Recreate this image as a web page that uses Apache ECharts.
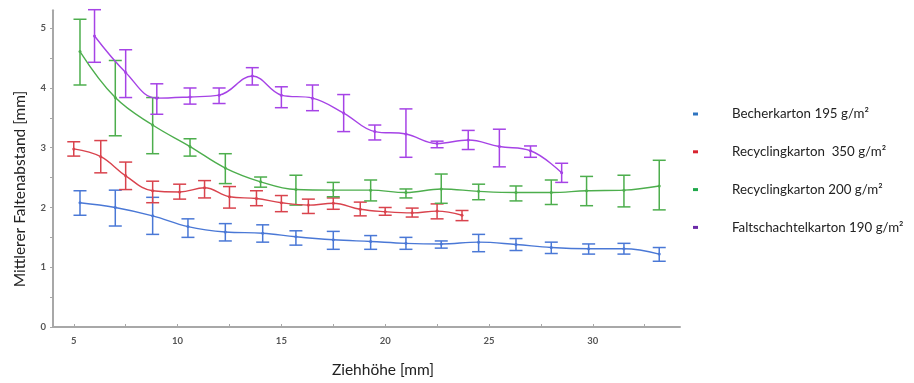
<!DOCTYPE html>
<html><head><meta charset="utf-8">
<script src="https://cdn.jsdelivr.net/npm/echarts@6/dist/echarts.min.js"></script>
<style>html,body{margin:0;padding:0;background:#fff}#c{width:914px;height:383px}</style>
</head><body><div id="c"></div>
<script>
// Becherkarton 195 g/m²
var becherX    = [5.3, 7.0, 8.8, 10.5, 12.3, 14.1, 15.7, 17.5, 19.3, 21.0, 22.7, 24.5, 26.3, 28.0, 29.8, 31.5, 33.2];
var becherMean = [2.08, 2.00, 1.86, 1.68, 1.59, 1.57, 1.51, 1.46, 1.43, 1.40, 1.39, 1.42, 1.38, 1.33, 1.31, 1.31, 1.22];
var becherHigh = [2.28, 2.29, 2.17, 1.81, 1.73, 1.71, 1.61, 1.60, 1.53, 1.50, 1.44, 1.55, 1.48, 1.42, 1.39, 1.40, 1.33];
var becherLow  = [1.87, 1.69, 1.55, 1.50, 1.44, 1.42, 1.37, 1.30, 1.30, 1.30, 1.32, 1.26, 1.28, 1.23, 1.22, 1.22, 1.10];
// Recyclingkarton 350 g/m²
var rec350X    = [5.0, 6.3, 7.5, 8.8, 10.1, 11.3, 12.5, 13.8, 15.0, 16.3, 17.5, 18.8, 20.0, 21.3, 22.5, 23.7];
var rec350Mean = [2.98, 2.85, 2.53, 2.28, 2.26, 2.33, 2.18, 2.15, 2.08, 2.04, 2.07, 1.97, 1.93, 1.91, 1.94, 1.87];
var rec350High = [3.10, 3.12, 2.76, 2.44, 2.39, 2.45, 2.35, 2.28, 2.20, 2.14, 2.16, 2.09, 2.00, 1.99, 2.06, 1.95];
var rec350Low  = [2.86, 2.58, 2.30, 2.08, 2.14, 2.16, 1.99, 2.03, 1.93, 1.90, 1.97, 1.86, 1.87, 1.84, 1.81, 1.78];
// Recyclingkarton 200 g/m²
var rec200X    = [5.3, 7.0, 8.8, 10.6, 12.3, 14.0, 15.7, 17.5, 19.3, 21.0, 22.7, 24.5, 26.3, 28.0, 29.7, 31.5, 33.2];
var rec200Mean = [4.61, 3.84, 3.38, 3.02, 2.66, 2.43, 2.30, 2.29, 2.29, 2.25, 2.31, 2.27, 2.25, 2.25, 2.28, 2.29, 2.36];
var rec200High = [5.15, 4.46, 3.84, 3.15, 2.90, 2.51, 2.54, 2.42, 2.46, 2.31, 2.56, 2.39, 2.36, 2.46, 2.52, 2.54, 2.79];
var rec200Low  = [4.05, 3.20, 2.90, 2.86, 2.40, 2.34, 2.04, 2.18, 2.11, 2.16, 2.07, 2.13, 2.11, 2.05, 2.03, 2.01, 1.96];
// Faltschachtelkarton 190 g/m²
var faltX    = [6.0, 7.5, 9.0, 10.6, 12.0, 13.6, 15.0, 16.5, 18.0, 19.5, 21.0, 22.5, 24.0, 25.5, 27.0, 28.5];
var faltMean = [4.87, 4.26, 3.83, 3.85, 3.88, 4.20, 3.88, 3.83, 3.58, 3.27, 3.23, 3.07, 3.13, 3.02, 2.95, 2.58];
var faltHigh = [5.31, 4.64, 4.07, 4.00, 4.00, 4.34, 4.02, 4.05, 3.89, 3.38, 3.65, 3.11, 3.29, 3.31, 3.03, 2.74];
var faltLow  = [4.43, 3.84, 3.56, 3.73, 3.74, 4.05, 3.67, 3.62, 3.27, 3.13, 2.84, 3.00, 2.97, 2.68, 2.84, 2.42];

var xTickLabels = [5, 10, 15, 20, 25, 30];
var xTicks = [5, 7.5, 10, 12.5, 15, 17.5, 20, 22.5, 25, 27.5, 30, 32.5];
var yTickLabels = [0, 1, 2, 3, 4, 5];
var yTicks = [0, 0.5, 1, 1.5, 2, 2.5, 3, 3.5, 4, 4.5, 5];

var seriesDefs = [
  {name: 'Becherkarton 195 g/m²', x: becherX, m: becherMean, lo: becherLow, hi: becherHigh, color: '#4a78d6', legend: '#2f74c0'},
  {name: 'Recyclingkarton  350 g/m²', x: rec350X, m: rec350Mean, lo: rec350Low, hi: rec350High, color: '#d9434d', legend: '#d8232e'},
  {name: 'Recyclingkarton 200 g/m²', x: rec200X, m: rec200Mean, lo: rec200Low, hi: rec200High, color: '#4dae4d', legend: '#1fa84a'},
  {name: 'Faltschachtelkarton 190 g/m²', x: faltX, m: faltMean, lo: faltLow, hi: faltHigh, color: '#a643e6', legend: '#6b2aa8'}
];

var series = [];
seriesDefs.forEach(function (d) {
  series.push({
    name: d.name, type: 'line', smooth: 0.4, symbol: 'circle', symbolSize: 3,
    lineStyle: {color: d.color, width: 1.4}, itemStyle: {color: d.color},
    data: d.x.map(function (v, i) { return [v, d.m[i]]; }), z: 3
  });
  series.push({
    name: d.name, type: 'custom', z: 2,
    data: d.x.map(function (v, i) { return [v, d.lo[i], d.hi[i]]; }),
    renderItem: function (params, api) {
      var p1 = api.coord([api.value(0), api.value(1)]);
      var p2 = api.coord([api.value(0), api.value(2)]);
      var w = 6.5;
      var st = {stroke: d.color, lineWidth: 1.5, fill: null};
      return {type: 'group', children: [
        {type: 'line', shape: {x1: p1[0], y1: p1[1], x2: p2[0], y2: p2[1]}, style: st},
        {type: 'line', shape: {x1: p1[0] - w, y1: p1[1], x2: p1[0] + w, y2: p1[1]}, style: st},
        {type: 'line', shape: {x1: p2[0] - w, y1: p2[1], x2: p2[0] + w, y2: p2[1]}, style: st}
      ]};
    }
  });
});

var FONT = 'Lato';
var chart = echarts.init(document.getElementById('c'));
chart.setOption({
  animation: false,
  grid: {left: 53, right: 234, top: 10.3, bottom: 56},
  xAxis: {
    type: 'value', min: 4, max: 34.2,
    axisLine: {lineStyle: {color: '#a8a8a8', width: 2}},
    axisTick: {show: true, inside: true, length: 3, customValues: xTicks, lineStyle: {color: '#a8a8a8'}},
    axisLabel: {customValues: xTickLabels, color: '#555', fontSize: 9.5, fontWeight: 'bold', margin: 9, fontFamily: FONT},
    splitLine: {show: false}
  },
  yAxis: {
    type: 'value', min: 0, max: 5.3,
    axisLine: {show: true, lineStyle: {color: '#a8a8a8', width: 2}},
    axisTick: {show: true, length: 3, customValues: yTicks, lineStyle: {color: '#a8a8a8'}},
    axisLabel: {customValues: yTickLabels, color: '#555', fontSize: 9.5, fontWeight: 'bold', margin: 7, fontFamily: FONT},
    splitLine: {show: false}
  },
  legend: {
    orient: 'vertical', left: 688, top: 101, itemWidth: 5, itemHeight: 3, itemGap: 21.8,
    icon: 'rect',
    textStyle: {fontSize: 13.3, color: '#222', fontFamily: FONT, lineHeight: 16, padding: [0, 0, 0, 29]},
    data: seriesDefs.map(function (d) { return {name: d.name, itemStyle: {color: d.legend}}; })
  },
  graphic: [
    {type: 'text', x: 20, y: 189, rotation: Math.PI / 2, style: {text: 'Mittlerer Faltenabstand [mm]', fontSize: 15.5, fontFamily: FONT, fill: '#222', align: 'center', verticalAlign: 'middle'}},
    {type: 'text', x: 383, y: 370, style: {text: 'Ziehhöhe [mm]', fontSize: 15.5, fontFamily: FONT, fill: '#222', align: 'center', verticalAlign: 'middle'}}
  ],
  series: series
});
</script></body></html>
